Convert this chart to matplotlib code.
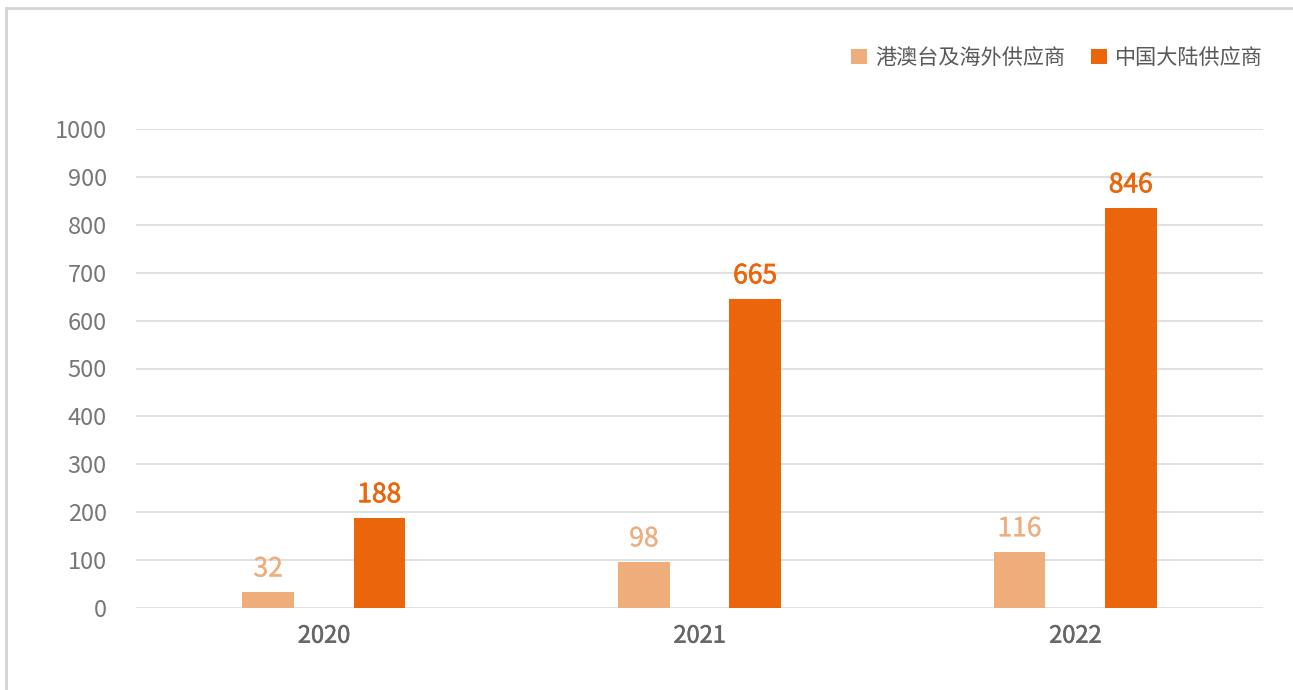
import numpy as np
import matplotlib
matplotlib.use("Agg")
import matplotlib.pyplot as plt
import matplotlib.patheffects as pe
from matplotlib.lines import Line2D

plt.rcParams['font.family'] = ['Noto Sans CJK SC', 'DejaVu Sans']

years = ['2020', '2021', '2022']
series_names = ['港澳台及海外供应商', '中国大陆供应商']
# bar heights as drawn in the picture
overseas = [33, 96, 117]
mainland = [188, 645, 835]
# value labels as printed above the bars
overseas_labels = ['32', '98', '116']
mainland_labels = ['188', '665', '846']
yticks = [0, 100, 200, 300, 400, 500, 600, 700, 800, 900, 1000]

light = '#F0AD7C'
dark = '#EB660B'

fig = plt.figure(figsize=(12.93, 6.90), dpi=100)
ax = fig.add_axes([136 / 1293, 1 - 608 / 690, (1263 - 136) / 1293, (608 - 129) / 690])

x = np.arange(len(years))
w = 0.138
off = 0.148
b1 = ax.bar(x - off, overseas, width=w, color=light, label=series_names[0], zorder=3)
b2 = ax.bar(x + off, mainland, width=w, color=dark, label=series_names[1], zorder=3)

for rects, texts, c, sw in [(b1, overseas_labels, light, 0.2), (b2, mainland_labels, dark, 0.5)]:
    for rect, t in zip(rects, texts):
        ax.annotate(t, (rect.get_x() + rect.get_width() / 2, rect.get_height()),
                    xytext=(0, 7), textcoords='offset points', ha='center', va='bottom',
                    fontsize=19, color=c,
                    path_effects=[pe.withStroke(linewidth=sw, foreground=c)])

ax.set_xlim(-0.5, 2.5)
ax.set_ylim(0, 1000)
ax.set_yticks(yticks)
ax.set_xticks(x)
ax.set_xticklabels(years)
for lbl in ax.get_xticklabels():
    lbl.set_path_effects([pe.withStroke(linewidth=0.4, foreground='#666666')])
ax.tick_params(axis='y', length=0, pad=21, labelsize=17, labelcolor='#777777')
ax.tick_params(axis='x', length=0, pad=12, labelsize=17, labelcolor='#666666')
ax.grid(axis='y', color='#d9d9d9', linewidth=1.1, zorder=0)
for s in ax.spines.values():
    s.set_visible(False)

leg = fig.legend(handles=[b1, b2], loc='center right', bbox_to_anchor=(1282 / 1293, 1 - 58 / 690),
                 ncol=2, frameon=False, fontsize=15.2, handlelength=0.75, handleheight=0.75,
                 handletextpad=0.4, columnspacing=1.2, labelcolor='#595959')

# outer frame, top and left edges
fig.add_artist(Line2D([6 / 1293, 1], [1 - 8 / 690, 1 - 8 / 690], transform=fig.transFigure,
                      color='#d4d4d4', linewidth=2))
fig.add_artist(Line2D([6 / 1293, 6 / 1293], [0, 1 - 8 / 690], transform=fig.transFigure,
                      color='#d4d4d4', linewidth=2))

fig.savefig('out.png', dpi=100)
